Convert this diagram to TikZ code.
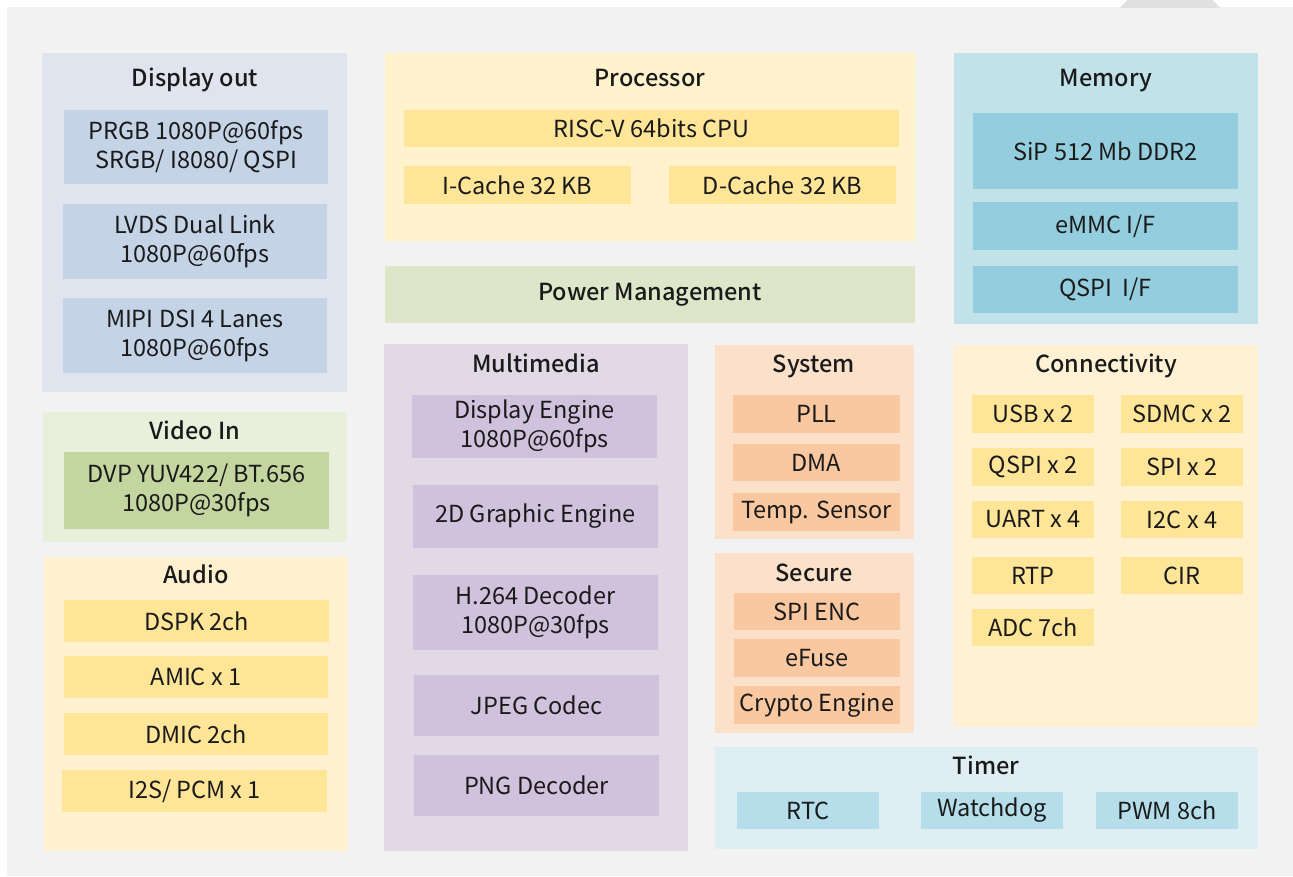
\documentclass[tikz,border=0pt]{standalone}
\usepackage{fontspec}
\setmainfont{Noto Sans CJK SC}
\newfontfamily\ttlfont{Noto Sans CJK SC Medium}
\definecolor{bgc}{HTML}{F2F2F2}
\definecolor{dispO}{HTML}{DFE4EE}
\definecolor{dispI}{HTML}{C5D3E7}
\definecolor{vidO}{HTML}{E8F0DC}
\definecolor{vidI}{HTML}{C4D6A0}
\definecolor{audO}{HTML}{FFF0D0}
\definecolor{yelI}{HTML}{FFE597}
\definecolor{procO}{HTML}{FFF2CC}
\definecolor{pmC}{HTML}{DDE6C8}
\definecolor{mmO}{HTML}{E2D9E7}
\definecolor{mmI}{HTML}{D0C2DD}
\definecolor{sysO}{HTML}{FBE0CA}
\definecolor{sysI}{HTML}{F9C8A0}
\definecolor{connO}{HTML}{FFF2D4}
\definecolor{memO}{HTML}{C1E2E9}
\definecolor{memI}{HTML}{94CEDE}
\definecolor{timO}{HTML}{DEEEF3}
\definecolor{timI}{HTML}{B5DEEA}
\definecolor{txt}{HTML}{1A1A1A}
\newcommand\blk[7]{\node[blkbase,#2,minimum width={(#5-#3)*1pt},minimum height={(#6-#4)*1pt}] (#1) at ({(#3+#5)/2},{(#4+#6)/2}) {#7};}
\begin{document}
\begin{tikzpicture}[x=1pt,y=-1pt,
  blkbase/.style={inner sep=0pt,outer sep=0pt,draw=none,align=center,text=txt,font=\fontsize{23.5}{29}\selectfont},
  ttl/.style={inner sep=0pt,anchor=base,text=txt,font=\fontsize{23.5}{26}\selectfont\ttlfont}]
\useasboundingbox (0,0) rectangle (1293,876);
\fill[white] (0,0) rectangle (1293,876);
\fill[bgc] (7,7) rectangle (1293,876);
\begin{scope}
\clip (1090,0) rectangle (1250,7);
\fill[black!12] (1170,48) circle (64);
\end{scope}
% Display out
\blk{dispout}{fill=dispO}{42}{53}{347}{392}{}
\node[ttl] (dispoutT) at (195,86) {Display out};
\blk{prgb}{fill=dispI}{64}{110}{328}{184}{PRGB 1080P@60fps\\SRGB/ I8080/ QSPI}
\blk{lvds}{fill=dispI}{63}{204}{327}{279}{LVDS Dual Link\\1080P@60fps}
\blk{mipi}{fill=dispI}{63}{298}{327}{373}{MIPI DSI 4 Lanes\\1080P@60fps}
% Video In
\blk{vidin}{fill=vidO}{43}{412}{347}{542}{}
\node[ttl] (vidinT) at (195,439) {Video In};
\blk{dvp}{fill=vidI}{64}{452}{329}{529}{DVP YUV422/ BT.656\\1080P@30fps}
% Audio
\blk{audio}{fill=audO}{44}{557}{348}{851}{}
\node[ttl] (audioT) at (196,583) {Audio};
\blk{dspk}{fill=yelI}{64}{600}{329}{642}{DSPK 2ch}
\blk{amic}{fill=yelI}{64}{656}{328}{698}{AMIC x 1}
\blk{dmic}{fill=yelI}{64}{713}{328}{755}{DMIC 2ch}
\blk{i2s}{fill=yelI}{62}{770}{327}{812}{I2S/ PCM x 1}
% Processor
\blk{proc}{fill=procO}{385}{53}{915}{241}{}
\node[ttl] (procT) at (650,86) {Processor};
\blk{risc}{fill=yelI}{404}{110}{899}{147}{RISC-V 64bits CPU}
\blk{icache}{fill=yelI}{404}{166}{631}{204}{I-Cache 32 KB}
\blk{dcache}{fill=yelI}{669}{166}{896}{204}{D-Cache 32 KB}
% Power management
\blk{pm}{fill=pmC,font=\fontsize{23.5}{26}\selectfont\ttlfont}{385}{266}{915}{323}{Power Management}
% Multimedia
\blk{mm}{fill=mmO}{384}{344}{688}{851}{}
\node[ttl] (mmT) at (536,372) {Multimedia};
\blk{de}{fill=mmI}{412}{395}{657}{458}{Display Engine\\1080P@60fps}
\blk{gfx}{fill=mmI}{413}{485}{658}{548}{2D Graphic Engine}
\blk{h264}{fill=mmI}{413}{575}{658}{650}{H.264 Decoder\\1080P@30fps}
\blk{jpeg}{fill=mmI}{414}{675}{659}{736}{JPEG Codec}
\blk{png}{fill=mmI}{414}{755}{659}{816}{PNG Decoder}
% System
\blk{sys}{fill=sysO}{715}{345}{914}{539}{}
\node[ttl] (sysT) at (814,372) {System};
\blk{pll}{fill=sysI}{733}{395}{900}{433}{PLL}
\blk{dma}{fill=sysI}{733}{444}{900}{481}{DMA}
\blk{temp}{fill=sysI}{733}{493}{900}{531}{Temp. Sensor}
% Secure
\blk{sec}{fill=sysO}{715}{553}{914}{733}{}
\node[ttl] (secT) at (814,581) {Secure};
\blk{spienc}{fill=sysI}{734}{593}{900}{630}{SPI ENC}
\blk{efuse}{fill=sysI}{734}{639}{900}{677}{eFuse}
\blk{crypto}{fill=sysI}{734}{686}{900}{724}{Crypto Engine}
% Connectivity
\blk{conn}{fill=connO}{953}{345}{1258}{727}{}
\node[ttl] (connT) at (1106,372) {Connectivity};
\blk{usb}{fill=yelI}{972}{395}{1094}{433}{USB x 2}
\blk{sdmc}{fill=yelI}{1121}{395}{1243}{433}{SDMC x 2}
\blk{qspi}{fill=yelI}{972}{448}{1094}{486}{QSPI x 2}
\blk{spi}{fill=yelI}{1121}{448}{1243}{486}{SPI x 2}
\blk{uart}{fill=yelI}{972}{501}{1094}{538}{UART x 4}
\blk{i2c}{fill=yelI}{1121}{501}{1243}{538}{I2C x 4}
\blk{rtp}{fill=yelI}{972}{557}{1094}{594}{RTP}
\blk{cir}{fill=yelI}{1121}{557}{1243}{594}{CIR}
\blk{adc}{fill=yelI}{972}{609}{1094}{646}{ADC 7ch}
% Memory
\blk{mem}{fill=memO}{954}{53}{1258}{324}{}
\node[ttl] (memT) at (1106,86) {Memory};
\blk{sip}{fill=memI}{973}{113}{1238}{189}{SiP 512 Mb DDR2}
\blk{emmc}{fill=memI}{973}{202}{1238}{250}{eMMC I/F}
\blk{qspiif}{fill=memI}{973}{266}{1238}{313}{QSPI\ \ I/F}
% Timer
\blk{timer}{fill=timO}{715}{747}{1258}{849}{}
\node[ttl] (timerT) at (986,774) {Timer};
\blk{rtc}{fill=timI}{737}{792}{879}{829}{RTC}
\blk{wdog}{fill=timI}{921}{792}{1063}{829}{Watchdog}
\blk{pwm}{fill=timI}{1096}{792}{1238}{829}{PWM 8ch}
\end{tikzpicture}
\end{document}
